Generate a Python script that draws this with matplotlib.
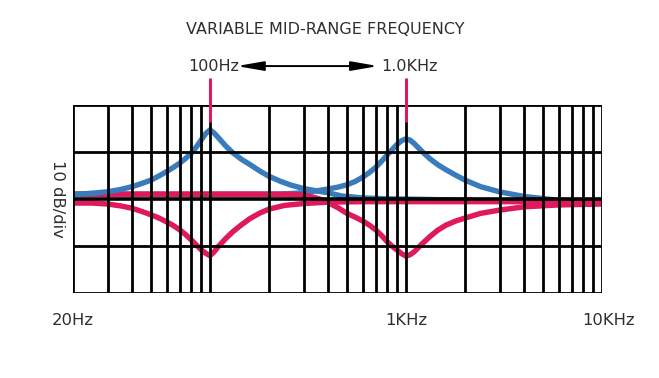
import matplotlib
matplotlib.use("Agg")
import matplotlib.pyplot as plt

# ---- data ----
grid_freqs = [20, 30, 40, 50, 60, 70, 80, 90, 100, 200, 300, 400, 500, 600, 700, 800, 900,
              1000, 2000, 3000, 4000, 5000, 6000, 7000, 8000, 9000, 10000]
grid_db = [-20, -10, 0, 10, 20]

# blue boost curve centred at 100 Hz
blue_lo_f = [20, 25, 30, 35, 40, 45, 50, 55, 60, 65, 70, 75, 80, 85, 90, 95, 100,
             105, 110, 120, 130, 145, 160, 180, 200, 230, 260, 300, 350, 400, 470,
             600, 800, 1200, 2000, 4000, 10000]
blue_lo_db = [0.9, 1.2, 1.5, 2.0, 2.6, 3.3, 4.0, 4.9, 5.8, 6.7, 7.6, 8.6, 9.7, 11.0, 12.5, 13.9, 14.7,
              14.0, 13.1, 11.3, 9.9, 8.4, 7.3, 5.9, 4.8, 3.7, 2.9, 2.2, 1.7, 1.3, 0.6,
              0.2, 0.0, -0.1, -0.3, -0.5, -0.6]

# blue boost curve centred at 1 kHz
blue_hi_f = [20, 100, 200, 250, 300, 350, 400, 450, 500, 550, 600, 650, 700, 750, 800, 850,
             900, 950, 1000, 1050, 1100, 1200, 1320, 1450, 1600, 1800, 2000, 2400, 3000,
             4000, 6000, 10000]
blue_hi_db = [1.0, 1.0, 1.0, 1.1, 1.3, 1.7, 2.1, 2.5, 3.0, 3.7, 4.6, 5.6, 6.7, 8.0, 9.3, 10.5,
              11.6, 12.4, 12.8, 12.5, 11.8, 10.2, 8.6, 7.3, 6.2, 5.0, 4.0, 2.6, 1.5,
              0.5, -0.3, -0.6]

# red cut curve centred at 100 Hz
red_lo_f = [20, 25, 30, 35, 40, 45, 50, 55, 60, 65, 70, 75, 80, 85, 90, 95, 100,
            105, 110, 120, 130, 145, 160, 180, 200, 240, 300, 400, 600, 1000, 3000, 10000]
red_lo_db = [-0.9, -0.9, -1.1, -1.5, -2.0, -2.7, -3.4, -4.1, -4.9, -5.7, -6.6, -7.6, -8.7, -9.8, -10.8, -11.6, -12.1,
             -11.3, -10.2, -8.5, -7.1, -5.5, -4.2, -3.0, -2.2, -1.4, -1.0, -0.7, -0.6, -0.6, -0.6, -0.6]

# red cut curve centred at 1 kHz
red_hi_f = [20, 100, 200, 280, 320, 360, 400, 450, 500, 550, 600, 650, 700, 750, 800, 850,
            900, 950, 1000, 1050, 1100, 1200, 1320, 1450, 1600, 1800, 2000, 2400, 3000,
            4000, 6000, 10000]
red_hi_db = [1.0, 1.0, 1.0, 0.9, 0.6, 0.0, -0.8, -1.9, -3.1, -3.9, -4.7, -5.6, -6.6, -7.8, -9.1, -10.1,
             -10.9, -11.7, -12.2, -11.9, -11.3, -9.7, -8.1, -6.7, -5.6, -4.7, -4.1, -3.1, -2.4,
             -1.7, -1.3, -1.1]

marker_freqs = [100, 1000]
marker_labels = ["100Hz", "1.0KHz"]
tick_freqs = [20, 1000, 10000]
tick_labels = ["20Hz", "1KHz", "10KHz"]

title = "VARIABLE MID-RANGE FREQUENCY"
ylabel = "10 dB/div"

# ---- style ----
BLUE = "#3a7bbd"
RED = "#e0185c"
TXT = "#2e2e2e"
CW = 3.9

fig = plt.figure(figsize=(6.59, 3.78), dpi=100)
ax = fig.add_axes([0.1108, 0.2257, 0.8027, 0.4965])
ax.set_xscale("log")
ax.set_xlim(20, 10000)
ax.set_ylim(-20, 20)
ax.axis("off")

kw = dict(lw=CW, solid_capstyle="butt", solid_joinstyle="round")
ax.plot(blue_hi_f, blue_hi_db, color=BLUE, zorder=2, **kw)
ax.plot(red_hi_f, red_hi_db, color=RED, zorder=2.2, **kw)
ax.plot(blue_lo_f, blue_lo_db, color=BLUE, zorder=2.4, **kw)
ax.plot(red_lo_f, red_lo_db, color=RED, zorder=2.6, **kw)

for f in grid_freqs:
    ax.plot([f, f], [-20, 20], color="black", lw=2.0, zorder=4, solid_capstyle="projecting")
for d in grid_db:
    ax.plot([20, 10000], [d, d], color="black", lw=2.6 if d == 0 else 2.0, zorder=4,
            solid_capstyle="projecting")

# red markers above the plot
for f, lab in zip(marker_freqs, marker_labels):
    ax.plot([f, f], [16.4, 25.8], color=RED, lw=2.2, zorder=5, clip_on=False,
            solid_capstyle="butt")
    ax.text(f * 1.04, 28.3, lab, ha="center", va="center", fontsize=11.5, color=TXT)

ax.annotate("", xy=(1000 * 0.72, 28.3), xytext=(100 * 1.37, 28.3),
            arrowprops=dict(arrowstyle="<|-|>,head_length=1.15,head_width=0.2",
                            color="black", lw=1.4, mutation_scale=14,
                            shrinkA=0, shrinkB=0),
            annotation_clip=False)

ax.text((325 - 73) / 529, (378 - 29 - 85.3) / 187.7, title, transform=ax.transAxes,
        ha="center", va="center", fontsize=11.5, color=TXT)

for f, lab in zip(tick_freqs, tick_labels):
    ax.text(f * (1.085 if f == 10000 else 1.0), -26.0, lab, ha="center", va="center",
            fontsize=11.8, color=TXT)

ax.text(-15.5 / 529, 0.5, ylabel, transform=ax.transAxes, rotation=-90,
        ha="center", va="center", fontsize=11.8, color=TXT)

fig.savefig("out.png", dpi=100)
